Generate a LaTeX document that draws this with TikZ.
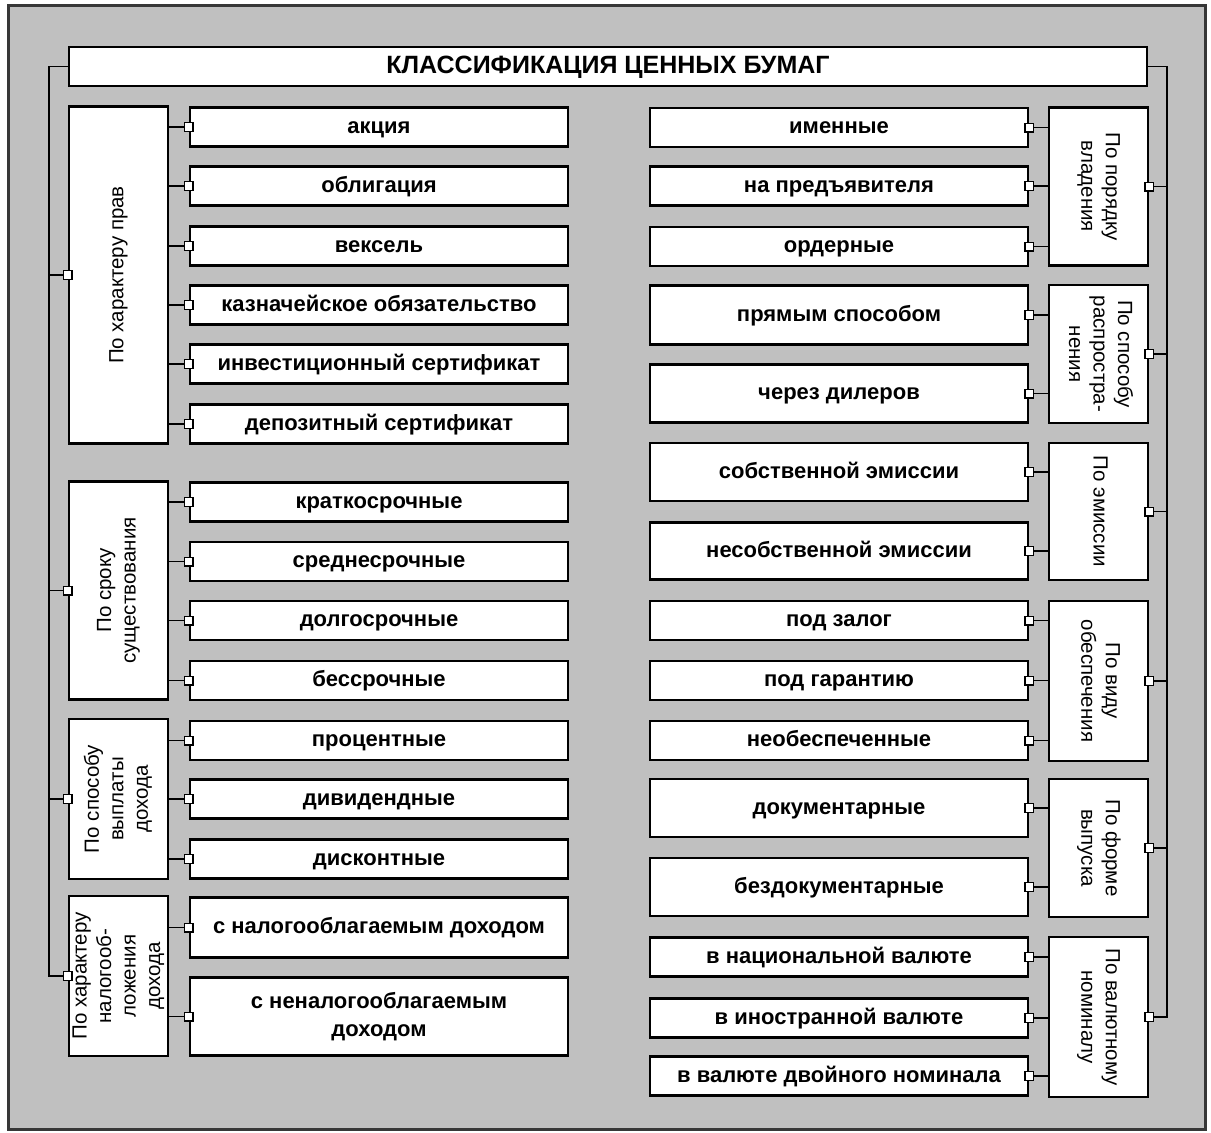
\documentclass[tikz,border=0pt]{standalone}
\usepackage{fontspec}
\setmainfont{Liberation Sans}
\usepackage{graphicx}
\usetikzlibrary{arrows.meta}

\definecolor{panel}{RGB}{192,192,192}
\definecolor{rim}{RGB}{55,55,55}
% rotated label for the category boxes
\newcommand{\vtext}[2]{\rotatebox{#1}{\begin{tabular}{@{}c@{}}#2\end{tabular}}}

\tikzset{knob/.tip={Square[length=10pt,width=10pt,fill=white,line width=1.4pt]}}

\begin{document}
\begin{tikzpicture}[x=1pt,y=-1pt,
  box/.style={draw=black,line width=2.6pt,fill=white,inner sep=0pt},
  twoline/.style={box,minimum width=378,minimum height=39,align=center,font=\bfseries\fontsize{22}{28}\selectfont},
  litem/.style={twoline,text height=16pt,text depth=4pt},
  ritem/.style={litem},
  catbox/.style={box,minimum width=99,font=\fontsize{20.5}{24.5}\selectfont},
  link/.style={line width=1.9pt},
  tap/.style={link,knob-,shorten <=-5pt}]
\useasboundingbox (0,0) rectangle (1211,1133);
% Background panel
\fill[white] (0,0) rectangle (1211,1133);
\draw[rim,line width=3pt,fill=panel] (8,5) rectangle (1205,1129);
% Title
\node[box,minimum width=1078,minimum height=39,text height=17pt,text depth=4pt,font=\bfseries\fontsize{25}{28}\selectfont] (title) at (608,66.5) {КЛАССИФИКАЦИЯ ЦЕННЫХ БУМАГ};
% Left categories
\node[catbox,minimum height=337] (prav) at (118.5,275) {\vtext{90}{По характеру прав}};
\node[catbox,minimum height=218] (srok) at (118.5,590.5) {\vtext{90}{По сроку\\существования}};
\node[catbox,minimum height=160] (vypl) at (118.5,799) {\vtext{90}{По способу\\выплаты\\дохода}};
\node[catbox,minimum height=160] (nal) at (118.5,976) {\vtext{90}{По характеру\\налогооб-\\ложения\\дохода}};
% Left items
\node[litem] (akc) at (379,127) {акция};
\node[litem] (obl) at (379,186) {облигация};
\node[litem] (veks) at (379,246) {вексель};
\node[litem] (kazn) at (379,305) {казначейское обязательство};
\node[litem] (inv) at (379,364) {инвестиционный сертификат};
\node[litem] (dep) at (379,424) {депозитный сертификат};
\node[litem] (krat) at (379,502) {краткосрочные};
\node[litem] (sred) at (379,561.5) {среднесрочные};
\node[litem] (dolg) at (379,620.5) {долгосрочные};
\node[litem] (bess) at (379,680.5) {бессрочные};
\node[litem] (proc) at (379,740.5) {процентные};
\node[litem] (divd) at (379,799) {дивидендные};
\node[litem] (disk) at (379,859) {дисконтные};
\node[litem,minimum height=60] (oblag) at (379,927.5) {с налогооблагаемым доходом};
\node[twoline,minimum height=78] (neobl) at (379,1016.5) {с неналогооблагаемым\\доходом};
% Right categories
\node[catbox,minimum height=158] (vlad) at (1098.5,186.5) {\vtext{-90}{По порядку\\владения}};
\node[catbox,minimum height=138] (rasp) at (1098.5,354) {\vtext{-90}{По способу\\распростра-\\нения}};
\node[catbox,minimum height=137] (emis) at (1098.5,511.5) {\vtext{-90}{По эмиссии}};
\node[catbox,minimum height=160] (obes) at (1098.5,681) {\vtext{-90}{По виду\\обеспечения}};
\node[catbox,minimum height=138] (form) at (1098.5,848) {\vtext{-90}{По форме\\выпуска}};
\node[catbox,minimum height=160] (valn) at (1098.5,1017) {\vtext{-90}{По валютному\\номиналу}};
% Right items
\node[ritem] (imen) at (839,127.5) {именные};
\node[ritem] (pred) at (839,186) {на предъявителя};
\node[ritem] (ordr) at (839,246.5) {ордерные};
\node[ritem,minimum height=59] (prjam) at (839,315) {прямым способом};
\node[ritem,minimum height=58] (dil) at (839,393.5) {через дилеров};
\node[ritem,minimum height=58] (sobs) at (839,472) {собственной эмиссии};
\node[ritem,minimum height=57] (nesob) at (839,551) {несобственной эмиссии};
\node[ritem] (zalog) at (839,620.5) {под залог};
\node[ritem] (garan) at (839,680.5) {под гарантию};
\node[ritem] (neob) at (839,740.5) {необеспеченные};
\node[ritem,minimum height=58] (dok) at (839,808) {документарные};
\node[ritem,minimum height=58] (bezd) at (839,887) {бездокументарные};
\node[ritem] (nacv) at (839,957) {в национальной валюте};
\node[ritem] (inov) at (839,1018) {в иностранной валюте};
\node[ritem] (dvoj) at (839,1076) {в валюте двойного номинала};
%
% Trunks from the title
\draw[link] (title.west) -- ++(-19,0) |- (nal.west);
\draw[link] (title.east) -- ++(19,0) |- (valn.east);
% Categories on the trunks
\draw[tap] (prav.west) -- ++(-19,0);
\draw[tap] (srok.west) -- ++(-19,0);
\draw[tap] (vypl.west) -- ++(-19,0);
\draw[tap] (nal.west) -- ++(-19,0);
\draw[tap] (vlad.east) -- ++(19,0);
\draw[tap] (rasp.east) -- ++(19,0);
\draw[tap] (emis.east) -- ++(19,0);
\draw[tap] (obes.east) -- ++(19,0);
\draw[tap] (form.east) -- ++(19,0);
\draw[tap] (valn.east) -- ++(19,0);
% Left items to their categories
\draw[tap] (akc.west) -- (akc.west -| prav.east);
\draw[tap] (obl.west) -- (obl.west -| prav.east);
\draw[tap] (veks.west) -- (veks.west -| prav.east);
\draw[tap] (kazn.west) -- (kazn.west -| prav.east);
\draw[tap] (inv.west) -- (inv.west -| prav.east);
\draw[tap] (dep.west) -- (dep.west -| prav.east);
\draw[tap] (krat.west) -- (krat.west -| srok.east);
\draw[tap] (sred.west) -- (sred.west -| srok.east);
\draw[tap] (dolg.west) -- (dolg.west -| srok.east);
\draw[tap] (bess.west) -- (bess.west -| srok.east);
\draw[tap] (proc.west) -- (proc.west -| vypl.east);
\draw[tap] (divd.west) -- (divd.west -| vypl.east);
\draw[tap] (disk.west) -- (disk.west -| vypl.east);
\draw[tap] (oblag.west) -- (oblag.west -| nal.east);
\draw[tap] (neobl.west) -- (neobl.west -| nal.east);
% Right items to their categories
\draw[tap] (imen.east) -- (imen.east -| vlad.west);
\draw[tap] (pred.east) -- (pred.east -| vlad.west);
\draw[tap] (ordr.east) -- (ordr.east -| vlad.west);
\draw[tap] (prjam.east) -- (prjam.east -| rasp.west);
\draw[tap] (dil.east) -- (dil.east -| rasp.west);
\draw[tap] (sobs.east) -- (sobs.east -| emis.west);
\draw[tap] (nesob.east) -- (nesob.east -| emis.west);
\draw[tap] (zalog.east) -- (zalog.east -| obes.west);
\draw[tap] (garan.east) -- (garan.east -| obes.west);
\draw[tap] (neob.east) -- (neob.east -| obes.west);
\draw[tap] (dok.east) -- (dok.east -| form.west);
\draw[tap] (bezd.east) -- (bezd.east -| form.west);
\draw[tap] (nacv.east) -- (nacv.east -| valn.west);
\draw[tap] (inov.east) -- (inov.east -| valn.west);
\draw[tap] (dvoj.east) -- (dvoj.east -| valn.west);
\end{tikzpicture}
\end{document}
